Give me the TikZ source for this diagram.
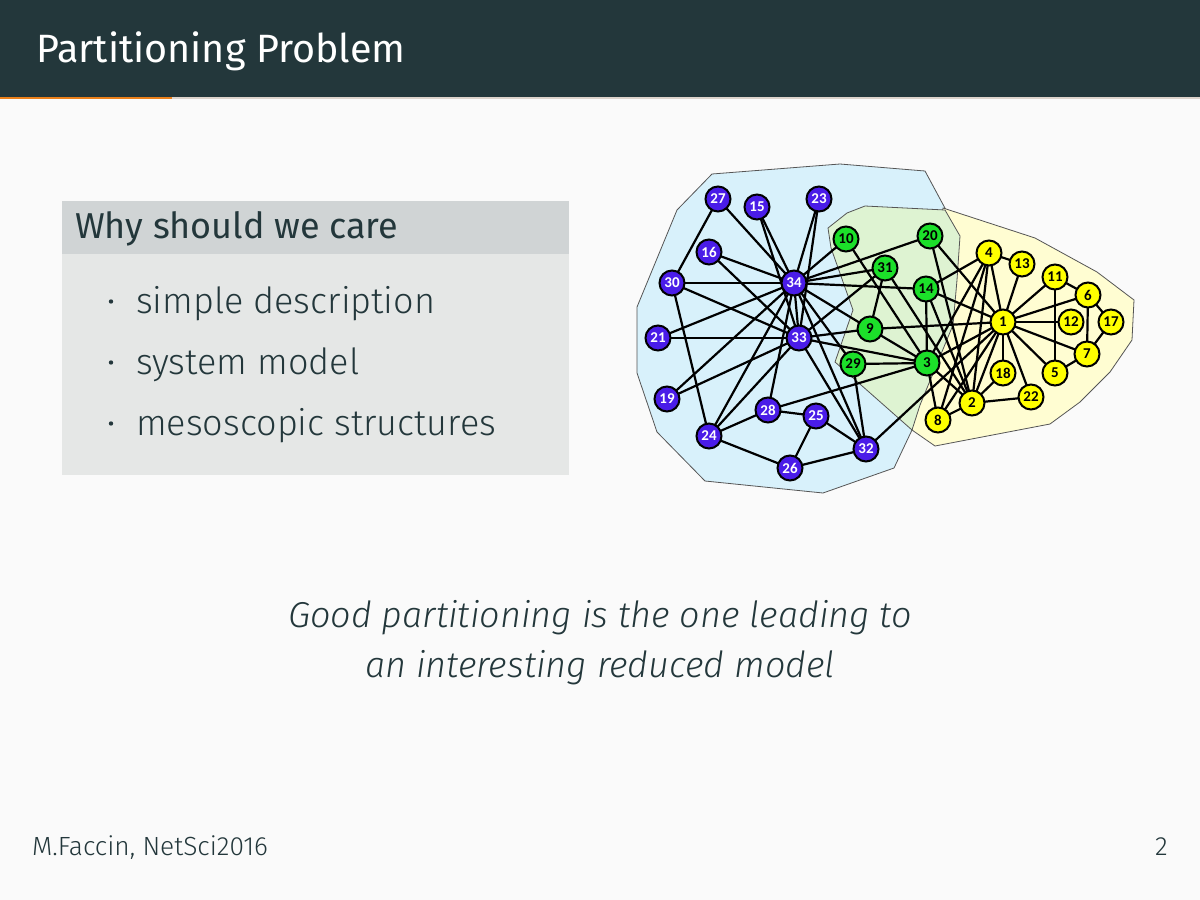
\documentclass[tikz,border=0pt]{standalone}
\usepackage{fontspec}
\setmainfont{Fira Sans}
\newfontfamily\firalight{Fira Sans Light}[ItalicFont={Fira Sans Light Italic}]
\newfontfamily\nodelabelfont{Carlito}[BoldFont={Carlito Bold}]

\definecolor{slidebg}{HTML}{FAFAFA}
\definecolor{darkteal}{HTML}{23373B}
\definecolor{accent}{HTML}{EB811B}
\definecolor{barlight}{HTML}{DCD3CB}
\definecolor{blocktitlebg}{HTML}{D0D4D5}
\definecolor{blockbodybg}{HTML}{E5E7E6}
\definecolor{hullblue}{HTML}{D8F1FB}
\definecolor{hullgreen}{HTML}{DEF3D2}
\definecolor{hullyellow}{HTML}{FFFDD2}
\definecolor{hulledge}{HTML}{555555}
\definecolor{clubpurple}{HTML}{4A1CE8}
\definecolor{clubgreen}{HTML}{1CE02A}
\definecolor{clubyellow}{HTML}{FFFF00}

\pgfdeclarelayer{back}
\pgfdeclarelayer{ties}
\pgfsetlayers{back,ties,main}

\tikzset{
  hull/.style={draw=hulledge, line width=0.8pt, line join=round},
  member/.style={circle, draw=black, line width=2pt, minimum size=25pt,
    inner sep=0pt, font=\nodelabelfont\bfseries\fontsize{15}{15}\selectfont},
  mA/.style={member, fill=clubpurple, text=white},
  mB/.style={member, fill=clubgreen, text=black},
  mC/.style={member, fill=clubyellow, text=black},
  tie/.style={draw=black, line width=2.2pt},
  bodytext/.style={anchor=base west, text=darkteal, inner sep=0pt},
}

\begin{document}
\begin{tikzpicture}[x=1pt,y=-1pt]
\useasboundingbox (0,0) rectangle (1200,900);

\begin{pgfonlayer}{back}
\fill[slidebg] (0,0) rectangle (1200,900);

% frame title bar and progress line
\fill[darkteal] (0,0) rectangle (1200,97);
\fill[barlight] (0,97) rectangle (1200,99);
\fill[accent] (0,97) rectangle (172,99);

% block
\fill[blocktitlebg] (62,201) rectangle (569,254);
\fill[blockbodybg] (62,254) rectangle (569,475);

% community hulls
\filldraw[hull, fill=hullblue] (712,174) -- (840,164) -- (925,171) -- (960,236) -- (950,330)
  -- (912,430) -- (894,468) -- (823,493) -- (705,481) -- (657,432) -- (637,373)
  -- (637,307) -- (677,210) -- cycle;
\filldraw[hull, fill=hullyellow] (943,208) -- (1035,238) -- (1097,272) -- (1134,300)
  -- (1132,340) -- (1110,372) -- (1080,402) -- (1050,424) -- (935,446) -- (912,430)
  -- (930,300) -- cycle;
\filldraw[hull, fill=hullgreen] (828,228) -- (847,213) -- (865,206) -- (945,210)
  -- (960,236) -- (957,280) -- (953,325) -- (920,405) -- (912,430) -- (835,362)
  -- (853,310) -- (831,248) -- cycle;
\end{pgfonlayer}

\node[anchor=base west, text=white, inner sep=0pt,
  font=\fontsize{39.5}{47}\selectfont] (title) at (36,62) {Partitioning Problem};

\node[bodytext, font=\fontsize{36}{43}\selectfont] (blocktitle) at (75,238) {Why should we care};
\foreach \yb/\txt/\nm in {313/simple description/itA, 374/system model/itB, 435/mesoscopic structures/itC}{
  \fill[darkteal] (111,\yb-11.5) circle (2.2pt);
  \node[bodytext, font=\firalight\fontsize{36}{43}\selectfont] (\nm) at (136,\yb) {\txt};
}

% closing statement
\node[anchor=base, text=darkteal, inner sep=0pt, font=\firalight\itshape\fontsize{36}{43}\selectfont]
  (lineA) at (600,627) {Good partitioning is the one leading to};
\node[anchor=base, text=darkteal, inner sep=0pt, font=\firalight\itshape\fontsize{36}{43}\selectfont]
  (lineB) at (600,677) {an interesting reduced model};

% footer
\node[bodytext, font=\firalight\fontsize{26.3}{31}\selectfont] (author) at (32,855) {M.Faccin, NetSci2016};
\node[anchor=base east, text=darkteal, inner sep=0pt, font=\firalight\fontsize{26.3}{31}\selectfont]
  (page) at (1168,855) {2};

% members of the club
\node[mC] (n1)  at (1003,322) {1};
\node[mC] (n2)  at (972,403) {2};
\node[mB] (n3)  at (927,363) {3};
\node[mC] (n4)  at (989,253) {4};
\node[mC] (n5)  at (1055,373) {5};
\node[mC] (n6)  at (1088,295) {6};
\node[mC] (n7)  at (1087,354) {7};
\node[mC] (n8)  at (938,420) {8};
\node[mB] (n9)  at (870,329) {9};
\node[mB] (n10) at (846,239) {10};
\node[mC] (n11) at (1055,277) {11};
\node[mC] (n12) at (1071,322) {12};
\node[mC] (n13) at (1022,264) {13};
\node[mB] (n14) at (926,289) {14};
\node[mA] (n15) at (757,207) {15};
\node[mA] (n16) at (709,252) {16};
\node[mC] (n17) at (1111,322) {17};
\node[mC] (n18) at (1003,373) {18};
\node[mA] (n19) at (667,399) {19};
\node[mB] (n20) at (930,236) {20};
\node[mA] (n21) at (658,338) {21};
\node[mC] (n22) at (1031,397) {22};
\node[mA] (n23) at (819,199) {23};
\node[mA] (n24) at (709,436) {24};
\node[mA] (n25) at (816,416) {25};
\node[mA] (n26) at (790,468) {26};
\node[mA] (n27) at (718,199) {27};
\node[mA] (n28) at (768,410) {28};
\node[mB] (n29) at (853,364) {29};
\node[mA] (n30) at (672,283) {30};
\node[mB] (n31) at (885,268) {31};
\node[mA] (n32) at (866,449) {32};
\node[mA] (n33) at (799,338) {33};
\node[mA] (n34) at (794,283) {34};

% friendships, drawn beneath the members
\begin{pgfonlayer}{ties}
\foreach \a/\b in {1/2,1/3,1/4,1/5,1/6,1/7,1/8,1/9,1/11,1/12,1/13,1/14,1/18,1/20,1/22,1/32,
  2/3,2/4,2/8,2/14,2/18,2/20,2/22,2/31,
  3/4,3/8,3/9,3/10,3/14,3/28,3/29,3/33,
  4/8,4/13,4/14,5/7,5/11,6/7,6/11,6/17,7/17,
  9/31,9/33,9/34,10/34,14/34,15/33,15/34,16/33,16/34,19/33,19/34,
  20/34,21/33,21/34,23/33,23/34,24/26,24/28,24/30,24/33,24/34,
  25/26,25/28,25/32,26/32,27/30,27/34,28/34,29/32,29/34,
  30/33,30/34,31/33,31/34,32/33,32/34,33/34}{
  \draw[tie] (n\a.center) -- (n\b.center);
}
\end{pgfonlayer}
\end{tikzpicture}
\end{document}
